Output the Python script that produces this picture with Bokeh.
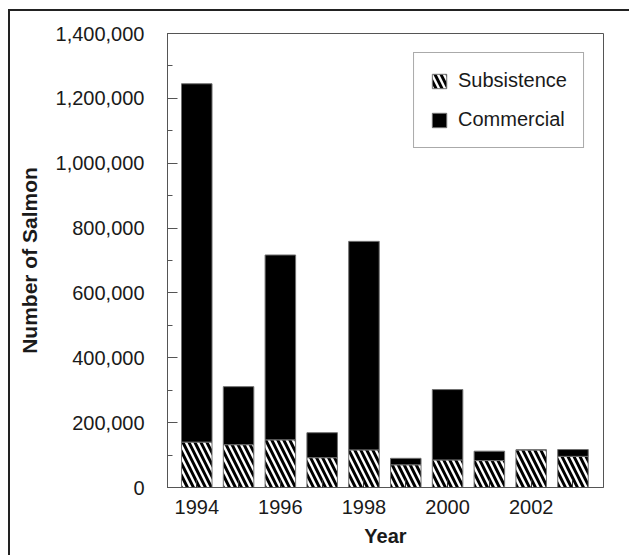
import numpy as np
from bokeh.plotting import figure
from bokeh.models import (ColumnDataSource, Range1d, FixedTicker, SingleIntervalTicker,
                          NumeralTickFormatter, Legend, LegendItem)
from bokeh.embed import file_html
from bokeh.resources import INLINE

years = [1994, 1995, 1996, 1997, 1998, 1999, 2000, 2001, 2002, 2003]
subsistence = [140000, 132000, 147000, 92000, 116000, 70000, 85000, 83000, 116000, 96000]
commercial = [1105000, 179000, 570000, 77000, 643000, 20000, 217000, 29000, 0, 21000]
major_year_ticks = [1994, 1996, 1998, 2000, 2002]
minor_year_ticks = [1995, 1997, 1999, 2001, 2003]

FONT = "Liberation Sans"
GRAY = "#555555"

src = ColumnDataSource(dict(
    x=years,
    subs=subsistence,
    comm_bottom=list(np.array(subsistence)),
    comm_top=list(np.array(subsistence) + np.array(commercial)),
))

p = figure(width=629, height=555, output_backend="svg", toolbar_location=None,
           x_range=Range1d(1993.3, 2003.73), y_range=Range1d(0, 1400000),
           min_border_left=167, min_border_top=33, min_border_bottom=68, min_border_right=26)
# outer frame lines (top and left) of the original figure panel
p.styles = {"box-shadow": "inset 8px 9px 0px 0px #ffffff, inset 10px 11px 0px 0px #222222",
            "background-color": "#ffffff"}
p.border_fill_alpha = 0
p.outline_line_color = GRAY
p.outline_line_width = 1
p.xgrid.visible = False
p.ygrid.visible = False
p.background_fill_color = "white"

r_sub = p.vbar(x="x", width=0.73, bottom=0, top="subs", source=src,
               fill_color="white", line_color="#707070", line_width=1,
               hatch_pattern="\\", hatch_color="black", hatch_scale=12, hatch_weight=3)
r_com = p.vbar(x="x", width=0.73, bottom="comm_bottom", top="comm_top", source=src,
               fill_color="black", line_color="#707070", line_width=1)

# axes
xa = p.xaxis[0]
xa.ticker = FixedTicker(ticks=major_year_ticks, minor_ticks=minor_year_ticks)
xa.major_tick_in = 8
xa.major_tick_out = 0
xa.minor_tick_in = 8
xa.minor_tick_out = 0
xa.axis_line_color = GRAY
xa.major_tick_line_color = "#333333"
xa.minor_tick_line_color = "#333333"
xa.major_label_text_font = FONT
xa.major_label_text_font_size = "20px"
xa.major_label_text_color = "#1a1a1a"
xa.major_label_standoff = 12
xa.axis_label = "Year"
xa.axis_label_text_font = FONT
xa.axis_label_text_font_size = "20px"
xa.axis_label_text_font_style = "bold"
xa.axis_label_text_color = "#1a1a1a"
xa.axis_label_standoff = 8

ya = p.yaxis[0]
ya.ticker = SingleIntervalTicker(interval=200000, num_minor_ticks=2)
ya.formatter = NumeralTickFormatter(format="0,0")
ya.major_tick_in = 10
ya.major_tick_out = 0
ya.minor_tick_in = 5
ya.minor_tick_out = 0
ya.axis_line_color = GRAY
ya.major_tick_line_color = GRAY
ya.minor_tick_line_color = GRAY
ya.major_label_text_font = FONT
ya.major_label_text_font_size = "20px"
ya.major_label_text_color = "#1a1a1a"
ya.major_label_standoff = 23
ya.axis_label = "Number of Salmon"
ya.axis_label_text_font = FONT
ya.axis_label_text_font_size = "21px"
ya.axis_label_text_font_style = "bold"
ya.axis_label_text_color = "#1a1a1a"
ya.axis_label_standoff = 12

legend = Legend(items=[LegendItem(label="Subsistence", renderers=[r_sub]),
                       LegendItem(label="Commercial", renderers=[r_com])],
                location="top_right", margin=19, padding=16, spacing=16,
                glyph_width=18, glyph_height=18, label_standoff=10,
                label_text_font=FONT, label_text_font_size="20px",
                label_text_color="#1a1a1a",
                border_line_color=GRAY, border_line_width=1,
                background_fill_color="white", background_fill_alpha=1)
p.add_layout(legend)

open("out.html", "w").write(file_html(p, INLINE))
